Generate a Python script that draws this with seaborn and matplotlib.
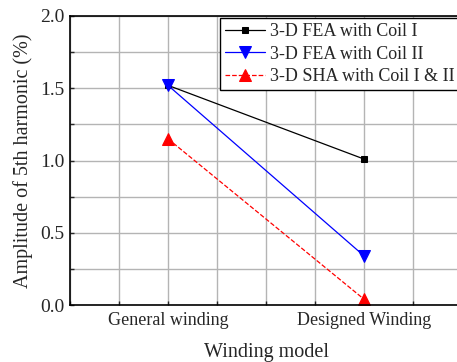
import matplotlib
matplotlib.use("Agg")
import matplotlib.pyplot as plt
import seaborn as sns
import pandas as pd
import numpy as np
from matplotlib.ticker import MultipleLocator, FormatStrFormatter

categories = ["General winding", "Designed Winding"]
coil1 = [1.52, 1.01]
coil2 = [1.52, 0.34]
sha = [1.15, 0.04]
series_names = ["3-D FEA with Coil I", "3-D FEA with Coil II", "3-D SHA with Coil I & II"]

sns.set_style("white")
plt.rcParams['font.family'] = ['Liberation Serif', 'DejaVu Serif']

rows = []
for name, vals in zip(series_names, [coil1, coil2, sha]):
    for i, v in enumerate(vals):
        rows.append({"x": i, "y": v, "series": name})
df = pd.DataFrame(rows)

fig = plt.figure(figsize=(4.57, 3.62), dpi=100)
ax = fig.add_axes([70/457, 57/362, 392/457, 289/362])

styles = {
    series_names[0]: dict(color="black", marker="s", linestyle="-", ms=5),
    series_names[1]: dict(color="blue", marker="v", linestyle="-", ms=8),
    series_names[2]: dict(color="red", marker="^", linestyle="--", ms=8),
}
for name in series_names:
    sub = df[df.series == name]
    st = styles[name]
    sns.lineplot(data=sub, x="x", y="y", ax=ax, color=st["color"], marker=st["marker"],
                 markersize=st["ms"], markeredgecolor=st["color"],
                 linewidth=0.9, label=name)
    ax.lines[-1].set_linestyle(st["linestyle"])

ax.set_xlim(-0.5, 1.5)
ax.set_ylim(0, 2.0)
ax.set_xticks([0, 1])
ax.set_xticklabels(categories)
ax.xaxis.set_minor_locator(MultipleLocator(0.25))
ax.yaxis.set_major_locator(MultipleLocator(0.5))
ax.yaxis.set_minor_locator(MultipleLocator(0.25))
ax.yaxis.set_major_formatter(FormatStrFormatter("%.1f"))
ax.grid(True, which="both", color="#b4b4b4", linewidth=1.0)
ax.set_axisbelow(True)
ax.tick_params(which="both", direction="in", length=3, width=1, pad=4,
               top=False, right=False, bottom=True, left=True)
ax.tick_params(axis="x", labelsize=13, pad=5)
ax.tick_params(axis="y", labelsize=14)
for s in ax.spines.values():
    s.set_color("black")
    s.set_linewidth(1.2)
ax.set_xlabel("Winding model", fontsize=14.5, labelpad=10)
ax.set_ylabel("Amplitude of 5th harmonic (%)", fontsize=14.5, labelpad=5)

leg = ax.legend(loc="upper right", bbox_to_anchor=(1.0, 1.0), fontsize=13, frameon=True,
                fancybox=False, edgecolor="black", framealpha=1, borderaxespad=0.1,
                handlelength=2.2, labelspacing=0.3, borderpad=0.3, handletextpad=0.3)
leg.get_frame().set_linewidth(1.0)

fig.savefig("out.png", dpi=100)
